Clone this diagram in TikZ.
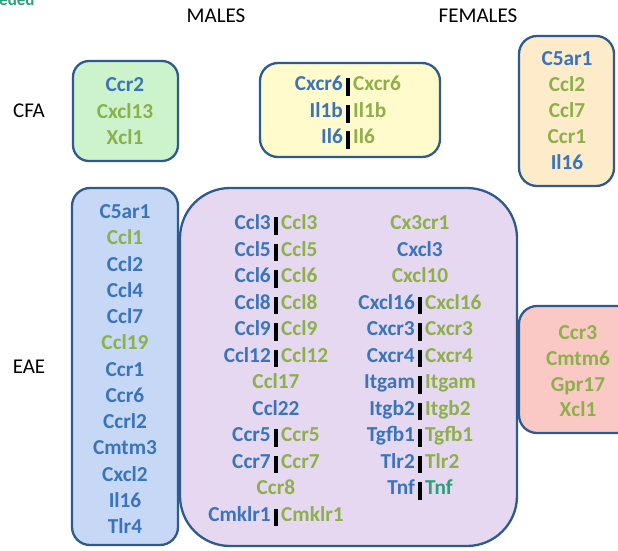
\documentclass[tikz,border=0pt]{standalone}
\usepackage{fontspec}
\setmainfont{Carlito}
\definecolor{mblue}{HTML}{3A74BA}
\definecolor{mgreen}{HTML}{8DB04B}
\definecolor{mteal}{HTML}{2BA078}
\definecolor{edge}{HTML}{2E5A8E}
\definecolor{fgreen}{HTML}{CDF3CD}
\definecolor{fyellow}{HTML}{FFFBCC}
\definecolor{forange}{HTML}{FDEBC9}
\definecolor{fblue}{HTML}{C6D8F6}
\definecolor{fpurple}{HTML}{E5D8F0}
\definecolor{fpink}{HTML}{FBC9C5}
% gene name on its own row, centred at (x, row centre)
\newcommand\gline[5]{\node[gene,text=#5] (#1) at (#2,{#3+6.5}) {#4};}
% male | female pair of gene names split by a black bar at x
\newcommand\gpair[6]{%
  \node[gene,text=mblue,anchor=base east] (#1-m) at ({#2-5},{#3+6.5}) {#4};
  \node[gene,text=#6,anchor=base west] (#1-f) at ({#2+5},{#3+6.5}) {#5};
  \fill[black] ({#2-1.8},{#3-6}) rectangle ({#2+1.8},{#3+11.5});}
\begin{document}
\begin{tikzpicture}[x=1pt,y=-1pt,
  gene/.style={font=\bfseries\fontsize{21.3}{21.3}\selectfont,inner sep=0pt,anchor=base},
  head/.style={font=\fontsize{21}{21}\selectfont,inner sep=0pt,text=black},
  box/.style={draw=edge,line width=2.3pt}]
\useasboundingbox (0,0) rectangle (618,550);
\clip (0,0) rectangle (618,550);

% caption running off the top edge
\node[font=\bfseries\fontsize{17}{17}\selectfont,text=mteal,inner sep=0pt,anchor=base west] (cut) at (-1,5.5) {eded};

% column and row headings
\node[head] (males) at (216,16) {MALES};
\node[head] (females) at (478,16) {FEMALES};
\node[head] (cfa) at (29,111) {CFA};
\node[head] (eae) at (29,367) {EAE};

% boxes
\draw[box,fill=fgreen,rounded corners=16pt] (73,61) rectangle (178,161);
\draw[box,fill=fyellow,rounded corners=18pt] (260,63) rectangle (440,157);
\draw[box,fill=forange,rounded corners=18pt] (519,36) rectangle (614,186);
\draw[box,fill=fblue,rounded corners=18pt] (72,188) rectangle (178,545);
\draw[box,fill=fpurple,rounded corners=50pt] (180,188) rectangle (517,546);
\draw[box,fill=fpink,rounded corners=18pt] (519,306) rectangle (638,433);

% CFA, males only
\gline{g1}{125}{85}{Ccr2}{mblue}
\gline{g2}{125}{112}{Cxcl13}{mgreen}
\gline{g3}{125}{138}{Xcl1}{mgreen}

% CFA, both sexes
\gpair{y1}{348}{84}{Cxcr6}{Cxcr6}{mgreen}
\gpair{y2}{348}{111}{Il1b}{Il1b}{mgreen}
\gpair{y3}{348}{137}{Il6}{Il6}{mgreen}

% CFA, females only
\gline{o1}{567}{59}{C5ar1}{mblue}
\gline{o2}{567}{85}{Ccl2}{mgreen}
\gline{o3}{567}{111}{Ccl7}{mgreen}
\gline{o4}{567}{137}{Ccr1}{mgreen}
\gline{o5}{567}{163}{Il16}{mblue}

% EAE, males only
\gline{b1}{125}{212}{C5ar1}{mblue}
\gline{b2}{125}{238.25}{Ccl1}{mgreen}
\gline{b3}{125}{264.5}{Ccl2}{mblue}
\gline{b4}{125}{290.75}{Ccl4}{mblue}
\gline{b5}{125}{317}{Ccl7}{mblue}
\gline{b6}{125}{343.25}{Ccl19}{mgreen}
\gline{b7}{125}{369.5}{Ccr1}{mblue}
\gline{b8}{125}{395.75}{Ccr6}{mblue}
\gline{b9}{125}{422}{Ccrl2}{mblue}
\gline{b10}{125}{448.25}{Cmtm3}{mblue}
\gline{b11}{125}{474.5}{Cxcl2}{mblue}
\gline{b12}{125}{500.75}{Il16}{mblue}
\gline{b13}{125}{527}{Tlr4}{mblue}

% EAE, both sexes: left column
\gpair{p1}{276}{223}{Ccl3}{Ccl3}{mgreen}
\gpair{p2}{276}{249.5}{Ccl5}{Ccl5}{mgreen}
\gpair{p3}{276}{276}{Ccl6}{Ccl6}{mgreen}
\gpair{p4}{276}{302.5}{Ccl8}{Ccl8}{mgreen}
\gpair{p5}{276}{329}{Ccl9}{Ccl9}{mgreen}
\gpair{p6}{276}{355.5}{Ccl12}{Ccl12}{mgreen}
\gline{p7}{276}{382}{Ccl17}{mgreen}
\gline{p8}{276}{408.5}{Ccl22}{mblue}
\gpair{p9}{276}{435}{Ccr5}{Ccr5}{mgreen}
\gpair{p10}{276}{461.5}{Ccr7}{Ccr7}{mgreen}
\gline{p11}{276}{488}{Ccr8}{mgreen}
\gpair{p12}{276}{514.5}{Cmklr1}{Cmklr1}{mgreen}

% EAE, both sexes: right column
\gline{q1}{420}{223}{Cx3cr1}{mgreen}
\gline{q2}{420}{249.5}{Cxcl3}{mblue}
\gline{q3}{420}{276}{Cxcl10}{mgreen}
\gpair{q4}{420}{302.5}{Cxcl16}{Cxcl16}{mgreen}
\gpair{q5}{420}{329}{Cxcr3}{Cxcr3}{mgreen}
\gpair{q6}{420}{355.5}{Cxcr4}{Cxcr4}{mgreen}
\gpair{q7}{420}{382}{Itgam}{Itgam}{mgreen}
\gpair{q8}{420}{408.5}{Itgb2}{Itgb2}{mgreen}
\gpair{q9}{420}{435}{Tgfb1}{Tgfb1}{mgreen}
\gpair{q10}{420}{461.5}{Tlr2}{Tlr2}{mgreen}
\gpair{q11}{420}{488}{Tnf}{Tnf}{mteal}

% EAE, females only
\gline{k1}{578}{333}{Ccr3}{mgreen}
\gline{k2}{578}{359}{Cmtm6}{mgreen}
\gline{k3}{578}{384.5}{Gpr17}{mgreen}
\gline{k4}{578}{410}{Xcl1}{mgreen}
\end{tikzpicture}
\end{document}
